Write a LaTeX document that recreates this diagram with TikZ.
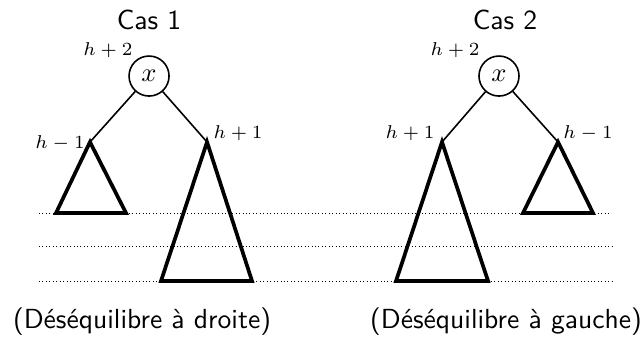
\documentclass[tikz,border=0pt]{standalone}
\usepackage{fontspec}
\usepackage{amsmath}

\tikzset{
  noeud/.style={draw, circle, minimum size=0.53cm, inner sep=0pt, line width=0.6pt},
  lien/.style={line width=0.6pt},
  arbre/.style={line width=1.4pt},
  niveau/.style={densely dotted, line width=0.3pt},
  haut/.style={font=\fontsize{7.3}{9}\selectfont},
  titre/.style={font=\fontsize{10.4}{12}\selectfont\sffamily},
}

\begin{document}
\begin{tikzpicture}
            \useasboundingbox (0,0) rectangle (8.503,4.490);
            % niveaux
            \draw[niveau] (0.517,1.669) -- (8.080,1.669);
            \draw[niveau] (0.517,1.232) -- (8.106,1.232);
            \draw[niveau] (0.517,0.768) -- (8.106,0.768);
            % Cas 1
            \node[titre] (t1) at (1.974,4.225) {Cas 1};
            \node[noeud] (x1) at (1.974,3.483) {$x$};
            \coordinate (g1) at (1.192,2.609);
            \coordinate (d1) at (2.742,2.609);
            \draw[lien] (x1) -- (g1);
            \draw[lien] (x1) -- (d1);
            \draw[arbre] (g1) -- (0.742,1.669) -- (1.669,1.669) -- cycle;
            \draw[arbre] (d1) -- (2.132,0.768) -- (3.338,0.768) -- cycle;
            \node[haut] (hx1) at (1.430,3.828) {$h+2$};
            \node[haut] (hg1) at (0.795,2.596) {$h-1$};
            \node[haut] (hd1) at (3.152,2.728) {$h+1$};
            \node[titre] (c1) at (1.881,0.225) {(Déséquilibre à droite)};
            % Cas 2
            \node[titre] (t2) at (6.689,4.225) {Cas 2};
            \node[noeud] (x2) at (6.609,3.483) {$x$};
            \coordinate (g2) at (5.854,2.609);
            \coordinate (d2) at (7.391,2.609);
            \draw[lien] (x2) -- (g2);
            \draw[lien] (x2) -- (d2);
            \draw[arbre] (g2) -- (5.245,0.768) -- (6.464,0.768) -- cycle;
            \draw[arbre] (d2) -- (6.927,1.669) -- (7.854,1.669) -- cycle;
            \node[haut] (hx2) at (6.026,3.828) {$h+2$};
            \node[haut] (hg2) at (5.430,2.728) {$h+1$};
            \node[haut] (hd2) at (7.788,2.728) {$h-1$};
            \node[titre] (c2) at (6.702,0.225) {(Déséquilibre à gauche)};
        \end{tikzpicture}
\end{document}
